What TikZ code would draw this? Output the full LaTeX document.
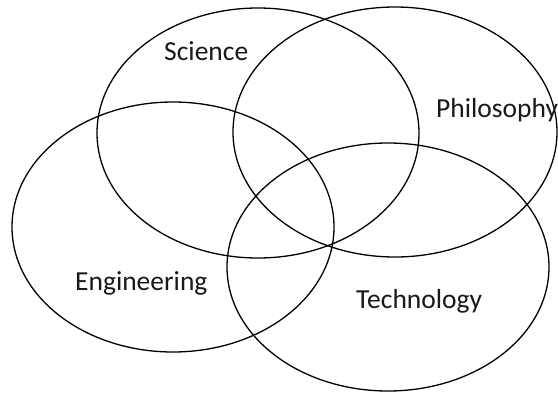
\documentclass[tikz,border=0pt]{standalone}
\usepackage{fontspec}
\setmainfont{Carlito}
\usetikzlibrary{shapes.geometric}
\tikzset{
  ring/.style={draw=black, line width=1.3pt, ellipse, inner sep=0pt, minimum width=322pt},
  lbl/.style={anchor=base west, inner sep=0pt, font=\fontsize{27.5}{30}\selectfont, text=black!90}
}
\begin{document}
\begin{tikzpicture}[x=1pt,y=-1pt]
\useasboundingbox (0,0) rectangle (558,394);
\fill[white] (0,0) rectangle (558,394);
\node[ring, minimum height=250pt] (sci) at (258,133) {};
\node[ring, minimum width=324pt, minimum height=250pt] (phi) at (395,132) {};
\node[ring, minimum height=250pt] (eng) at (173,227) {};
\node[ring, minimum height=248pt] (tec) at (388,267) {};
\node[lbl] (tsci) at (164,60) {Science};
\node[lbl] (tphi) at (436,117) {Philosophy};
\node[lbl] (teng) at (75,290) {Engineering};
\node[lbl] (ttec) at (356,308) {Technology};
\end{tikzpicture}
\end{document}
